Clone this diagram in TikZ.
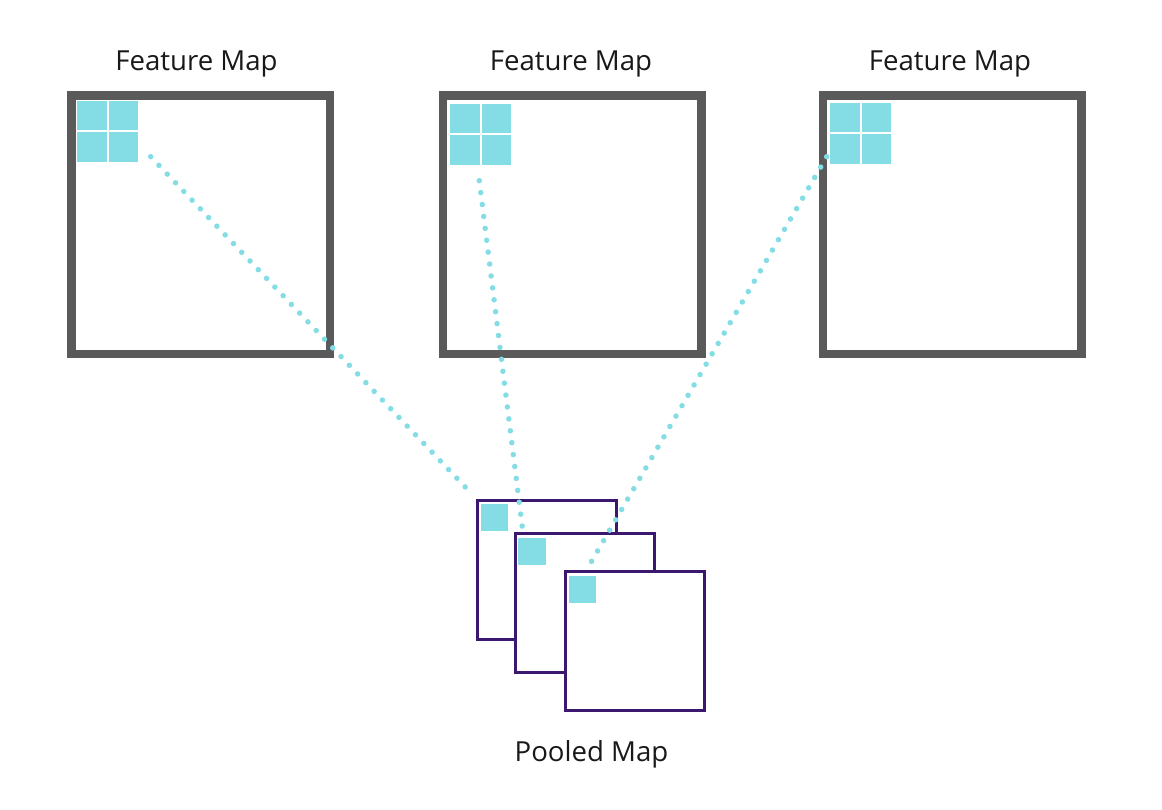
\documentclass[tikz,border=0pt]{standalone}
\usepackage{fontspec}
\setmainfont{Open Sans}
\definecolor{fgray}{HTML}{5A5A5A}
\definecolor{cyanc}{HTML}{84DCE4}
\definecolor{purp}{HTML}{3B176F}
\begin{document}
\begin{tikzpicture}[x=1pt,y=-1pt,
  fmap/.style={draw=fgray,line width=8.5pt,fill=white,minimum size=258.5pt,inner sep=0pt,outer sep=0pt},
  pmap/.style={draw=purp,line width=3pt,fill=white,minimum size=139pt,inner sep=0pt,outer sep=0pt},
  cell/.style={fill=cyanc},
  lbl/.style={font=\fontsize{27.6}{33}\selectfont,text=black!90,anchor=base,inner sep=0pt},
  dotline/.style={draw=cyanc,line width=5.5pt,line cap=round,dash pattern=on 0pt off 12pt}]
\useasboundingbox[fill=white] (0,0) rectangle (1162,810);
% feature maps
\node[fmap] (f1) at (200.75,224.75) {};
\node[fmap] (f2) at (572,224.75) {};
\node[fmap] (f3) at (952.25,224.75) {};
% cyan 2x2 blocks
\foreach \x/\y in {77/101, 450/104, 830/103}{
  \fill[cell] (\x,\y) rectangle ++(29.5,29.5);
  \fill[cell] (\x+31.5,\y) rectangle ++(29.5,29.5);
  \fill[cell] (\x,\y+31.5) rectangle ++(29.5,29.5);
  \fill[cell] (\x+31.5,\y+31.5) rectangle ++(29.5,29.5);
}
% labels
\node[lbl] (t1) at (196.5,71) {Feature Map};
\node[lbl] (t2) at (571,71) {Feature Map};
\node[lbl] (t3) at (950,71) {Feature Map};
\node[lbl] (t4) at (591.5,761) {Pooled Map};
% connector end points
\coordinate (s1) at (150.7,156.7);
\coordinate (e1) at (470,492);
\coordinate (s2) at (479.3,180.7);
\coordinate (e2) at (524,541);
\coordinate (s3) at (826.7,156.7);
\coordinate (e3) at (590,564);
% pooled maps and connectors
\draw[dotline] (s1) -- (e1);
\node[pmap] (pa) at (546.5,570) {};
\fill[cell] (481,504) rectangle (508,531);
\draw[dotline] (s2) -- (e2);
\node[pmap] (pb) at (584.5,602.5) {};
\fill[cell] (518,538) rectangle (546,565);
\draw[dotline] (s3) -- (e3);
\node[pmap] (pc) at (635,641) {};
\fill[cell] (569,576) rectangle (596,603);
\end{tikzpicture}
\end{document}
